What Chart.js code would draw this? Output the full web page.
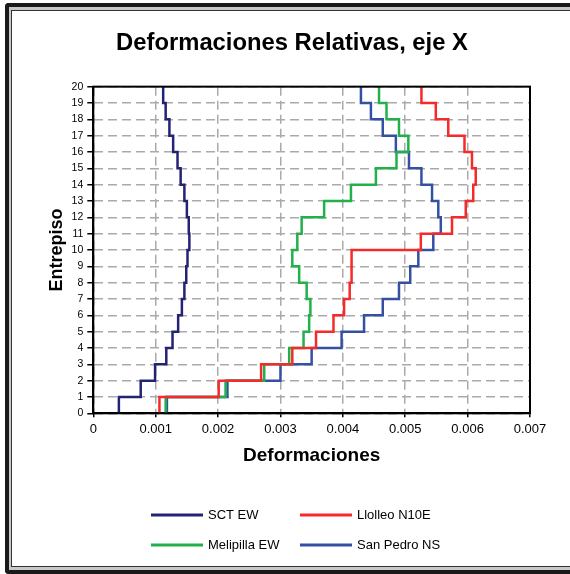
<!DOCTYPE html>
<html>
<head>
<meta charset="utf-8">
<script src="https://cdn.jsdelivr.net/npm/chart.js@4.4.1/dist/chart.umd.min.js"></script>
<style>
  body { margin: 0; background: #fff; }
  #wrap { position: relative; width: 570px; height: 574px; overflow: hidden; }
  .frame { position: absolute; left: 5px; top: 3px; width: 700px; height: 563px;
    border: 4px solid #1a1a1a; border-right: none; border-radius: 4px 0 0 4px; background: #c8c8c8; }
  .inner { position: absolute; left: 2px; top: 3px; right: 0; bottom: 3px;
    border: 1px solid #333; border-right: none; background: #fff; }
  canvas { position: absolute; left: 0; top: 0; }
</style>
</head>
<body>
<div id="wrap">
  <div class="frame"><div class="inner"></div></div>
  <canvas id="chart" width="570" height="574"></canvas>
</div>
<script>
const FONT = "'Liberation Sans', Arial, sans-serif";

// drift per story, stories 1..20
const stories = [1, 2, 3, 4, 5, 6, 7, 8, 9, 10, 11, 12, 13, 14, 15, 16, 17, 18, 19, 20];
const sctEW = [0.00041, 0.00076, 0.00099, 0.00117, 0.00127, 0.00136, 0.00142, 0.00146, 0.00149, 0.00151,
  0.00154, 0.00153, 0.00150, 0.00146, 0.00140, 0.00135, 0.00128, 0.00122, 0.00116, 0.00112];
const llolleoN10E = [0.00106, 0.00201, 0.00269, 0.00319, 0.00357, 0.00385, 0.00402, 0.00411, 0.00414, 0.00414,
  0.00525, 0.00575, 0.00597, 0.00609, 0.00613, 0.00607, 0.00595, 0.00569, 0.00549, 0.00526];
const melipillaEW = [0.00116, 0.00212, 0.00274, 0.00314, 0.00337, 0.00346, 0.00348, 0.00342, 0.00330, 0.00319,
  0.00327, 0.00334, 0.00370, 0.00413, 0.00453, 0.00486, 0.00505, 0.00490, 0.00470, 0.00458];
const sanPedroNS = [0.00118, 0.00215, 0.00300, 0.00350, 0.00398, 0.00434, 0.00464, 0.00490, 0.00508, 0.00521,
  0.00545, 0.00557, 0.00553, 0.00543, 0.00526, 0.00506, 0.00485, 0.00464, 0.00445, 0.00429];

const seriesNames = ['SCT EW', 'Llolleo N10E', 'Melipilla EW', 'San Pedro NS'];
const seriesColors = ['#232375', '#f52a2a', '#22b04a', '#3350a3'];

// each story value is held from the floor below to the floor above
function stepPoints(values) {
  const pts = [];
  values.forEach((v, i) => {
    pts.push({ x: v, y: stories[i] - 1 });
    pts.push({ x: v, y: stories[i] });
  });
  return pts;
}

const frameBorder = {
  id: 'frameBorder',
  afterDatasetsDraw(chart) {
    const { ctx, chartArea: a } = chart;
    ctx.save();
    ctx.strokeStyle = '#000';
    ctx.lineWidth = 2;
    ctx.strokeRect(a.left, a.top, a.right - a.left, a.bottom - a.top);
    ctx.restore();
  }
};

// two-column legend like the spreadsheet one
const gridLegend = {
  id: 'gridLegend',
  afterDraw(chart, args, opts) {
    const ctx = chart.ctx;
    ctx.save();
    ctx.font = '13px ' + FONT;
    ctx.textBaseline = 'middle';
    ctx.fillStyle = '#000';
    chart.data.datasets.forEach((ds, i) => {
      const x = opts.cols[i % 2];
      const y = opts.rows[Math.floor(i / 2)];
      ctx.strokeStyle = ds.borderColor;
      ctx.lineWidth = 3;
      ctx.beginPath();
      ctx.moveTo(x, y);
      ctx.lineTo(x + opts.lineLen, y);
      ctx.stroke();
      ctx.fillText(ds.label, x + opts.lineLen + 5, y + 0.5);
    });
    ctx.restore();
  }
};

const datasets = [sctEW, llolleoN10E, melipillaEW, sanPedroNS].map((vals, i) => ({
  label: seriesNames[i],
  data: stepPoints(vals),
  borderColor: seriesColors[i],
  backgroundColor: seriesColors[i],
  borderWidth: 2.5,
  pointRadius: 0,
  showLine: true,
  fill: false
}));

new Chart(document.getElementById('chart'), {
  type: 'scatter',
  data: { datasets: datasets },
  options: {
    responsive: false,
    animation: false,
    layout: { padding: { left: 20, right: 6, top: 10, bottom: 100 } },
    plugins: {
      legend: { display: false },
      tooltip: { enabled: false },
      title: {
        display: true,
        text: 'Deformaciones Relativas, eje X',
        color: '#000',
        font: { family: FONT, size: 23.8, weight: 'bold' },
        padding: { top: 19.2, bottom: 28.9 }
      },
      gridLegend: { cols: [151, 300], rows: [515, 545], lineLen: 52 }
    },
    scales: {
      x: {
        type: 'linear',
        min: 0,
        max: 0.007,
        afterFit(scale) {
          scale.height = 60.7;
          scale.paddingLeft = 0;
          scale.paddingRight = 40;
        },
        ticks: {
          stepSize: 0.001,
          color: '#000',
          padding: 4.5,
          font: { family: FONT, size: 13 },
          callback: (v) => (v === 0 ? '0' : v.toFixed(3))
        },
        grid: { color: '#aaa', lineWidth: 1.5, tickLength: 4, tickColor: '#000', tickWidth: 1.5, tickBorderDash: [] },
        border: { color: '#000', width: 2, dash: [9, 5] },
        title: {
          display: true,
          text: 'Deformaciones',
          color: '#000',
          font: { family: FONT, size: 19, weight: 'bold' },
          padding: { top: 0, bottom: 7.1 }
        }
      },
      y: {
        type: 'linear',
        min: 0,
        max: 20,
        afterFit(scale) {
          scale.width = 73.3;
          scale.paddingTop = 0;
          scale.paddingBottom = 0;
        },
        ticks: {
          stepSize: 1,
          color: '#000',
          padding: 4,
          font: { family: FONT, size: 10.5 }
        },
        grid: { color: '#aaa', lineWidth: 1.5, tickLength: 6, tickColor: '#000', tickWidth: 1.5, tickBorderDash: [] },
        border: { color: '#000', width: 2, dash: [9, 5] },
        title: {
          display: true,
          text: 'Entrepiso',
          color: '#000',
          font: { family: FONT, size: 18, weight: 'bold' },
          padding: { top: 26, bottom: 0 }
        }
      }
    }
  },
  plugins: [frameBorder, gridLegend]
});
</script>
</body>
</html>
